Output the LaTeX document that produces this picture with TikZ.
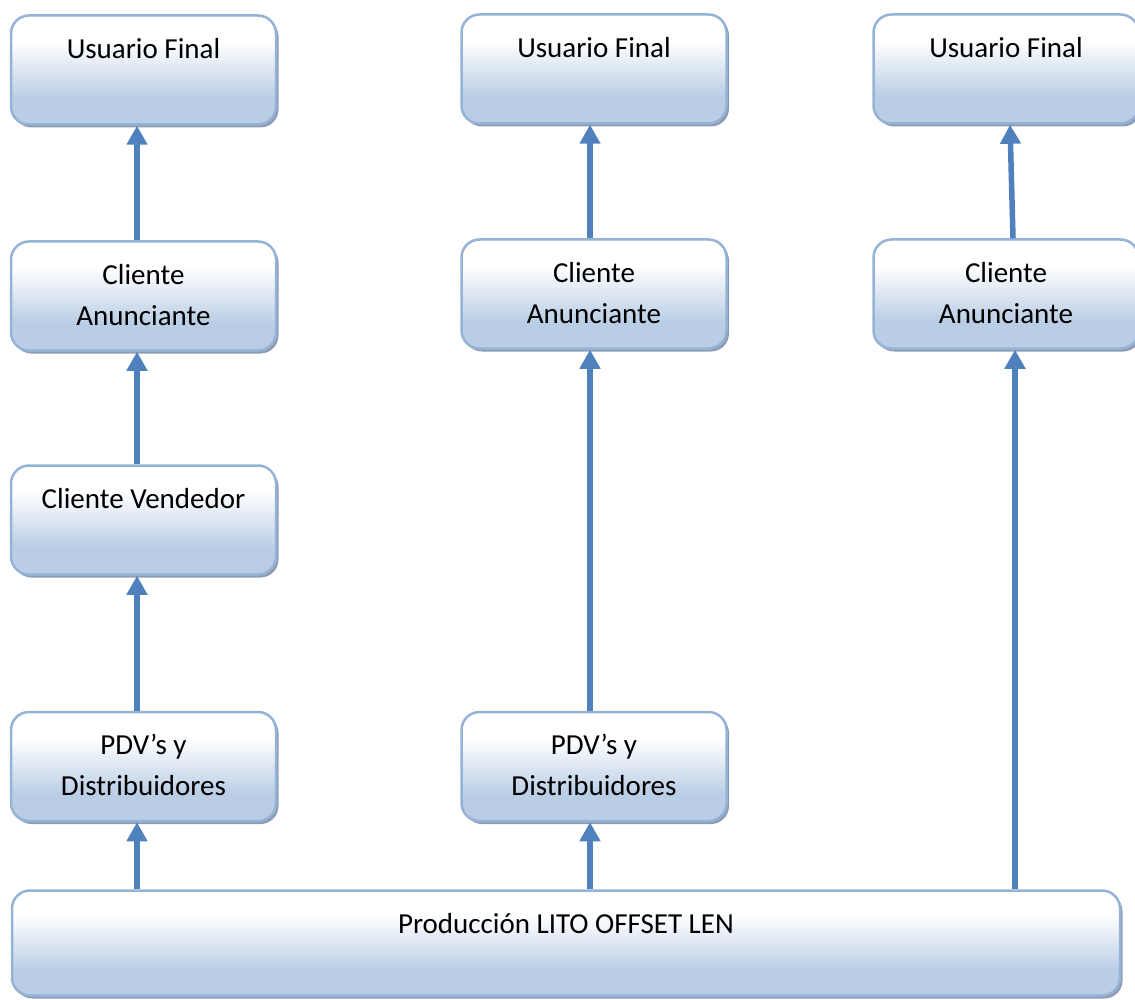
\documentclass[tikz,border=0pt]{standalone}
\usepackage{fontspec}
\setmainfont{Carlito}
\usetikzlibrary{arrows.meta,shadows}
\definecolor{boxblue}{HTML}{B9CDE5}
\definecolor{boxedge}{HTML}{95B3D7}
\definecolor{arrblue}{HTML}{4F81BD}
\definecolor{shadowc}{HTML}{8E9CB3}
\pgfdeclareverticalshading{boxshade}{100bp}{color(0bp)=(boxblue); color(37bp)=(boxblue); color(63bp)=(white); color(100bp)=(white)}
\tikzset{
  box/.style={rectangle, rounded corners=18pt, draw=boxedge, line width=2.5pt,
    shading=boxshade, minimum width=265pt, minimum height=109pt, inner sep=0pt,
    drop shadow={shadow xshift=2.5pt, shadow yshift=-3pt, fill=shadowc, opacity=1}},
  lbl/.style={anchor=north, inner sep=0pt, align=center, font=\fontsize{29}{41}\selectfont},
  arr/.style={draw=arrblue, line width=5.5pt, -{Triangle[width=20pt,length=19pt]}}
}
\begin{document}
\begin{tikzpicture}[x=1pt,y=-1pt]
\useasboundingbox (0,0) rectangle (1135,1000);
% column 1
\node[box] (u1) at (143.5,70) {};
\node[box] (a1) at (143.5,296) {};
\node[box] (v1) at (143.5,520) {};
\node[box] (p1) at (143.5,766.5) {};
% column 2
\node[box] (u2) at (594,69) {};
\node[box] (a2) at (594,294) {};
\node[box] (p2) at (594,766.5) {};
% column 3
\node[box] (u3) at (1006,69) {};
\node[box] (a3) at (1006,294) {};
% production
\node[box, minimum width=1108pt, minimum height=105pt] (prod) at (566,943) {};
% labels
\node[lbl] (tu1) at ([yshift=-15.3pt]u1.north) {\strut Usuario Final};
\node[lbl] (ta1) at ([yshift=-15.3pt]a1.north) {\strut Cliente\\Anunciante};
\node[lbl] (tv1) at ([yshift=-15.3pt]v1.north) {\strut Cliente Vendedor};
\node[lbl] (tp1) at ([yshift=-15.3pt]p1.north) {\strut PDV’s y\\Distribuidores};
\node[lbl] (tu2) at ([yshift=-15.3pt]u2.north) {\strut Usuario Final};
\node[lbl] (ta2) at ([yshift=-15.3pt]a2.north) {\strut Cliente\\Anunciante};
\node[lbl] (tp2) at ([yshift=-15.3pt]p2.north) {\strut PDV’s y\\Distribuidores};
\node[lbl] (tu3) at ([yshift=-15.3pt]u3.north) {\strut Usuario Final};
\node[lbl] (ta3) at ([yshift=-15.3pt]a3.north) {\strut Cliente\\Anunciante};
\node[lbl] (tprod) at ([yshift=-15.3pt]prod.north) {\strut Producción LITO OFFSET LEN};
% arrow x positions
\coordinate (x1) at (137,0);
\coordinate (x2) at (590,0);
\coordinate (x3) at (1015,0);
\coordinate (x3b) at (1013,0);
\coordinate (x3t) at (1010,0);
% arrows
\draw[arr] (prod.north -| x1) -- (p1.south -| x1);
\draw[arr] (p1.north -| x1) -- (v1.south -| x1);
\draw[arr] (v1.north -| x1) -- (a1.south -| x1);
\draw[arr] (a1.north -| x1) -- (u1.south -| x1);
\draw[arr] (prod.north -| x2) -- (p2.south -| x2);
\draw[arr] (p2.north -| x2) -- (a2.south -| x2);
\draw[arr] (a2.north -| x2) -- (u2.south -| x2);
\draw[arr] (prod.north -| x3) -- (a3.south -| x3);
\draw[arr] (a3.north -| x3b) -- (u3.south -| x3t);
\end{tikzpicture}
\end{document}
